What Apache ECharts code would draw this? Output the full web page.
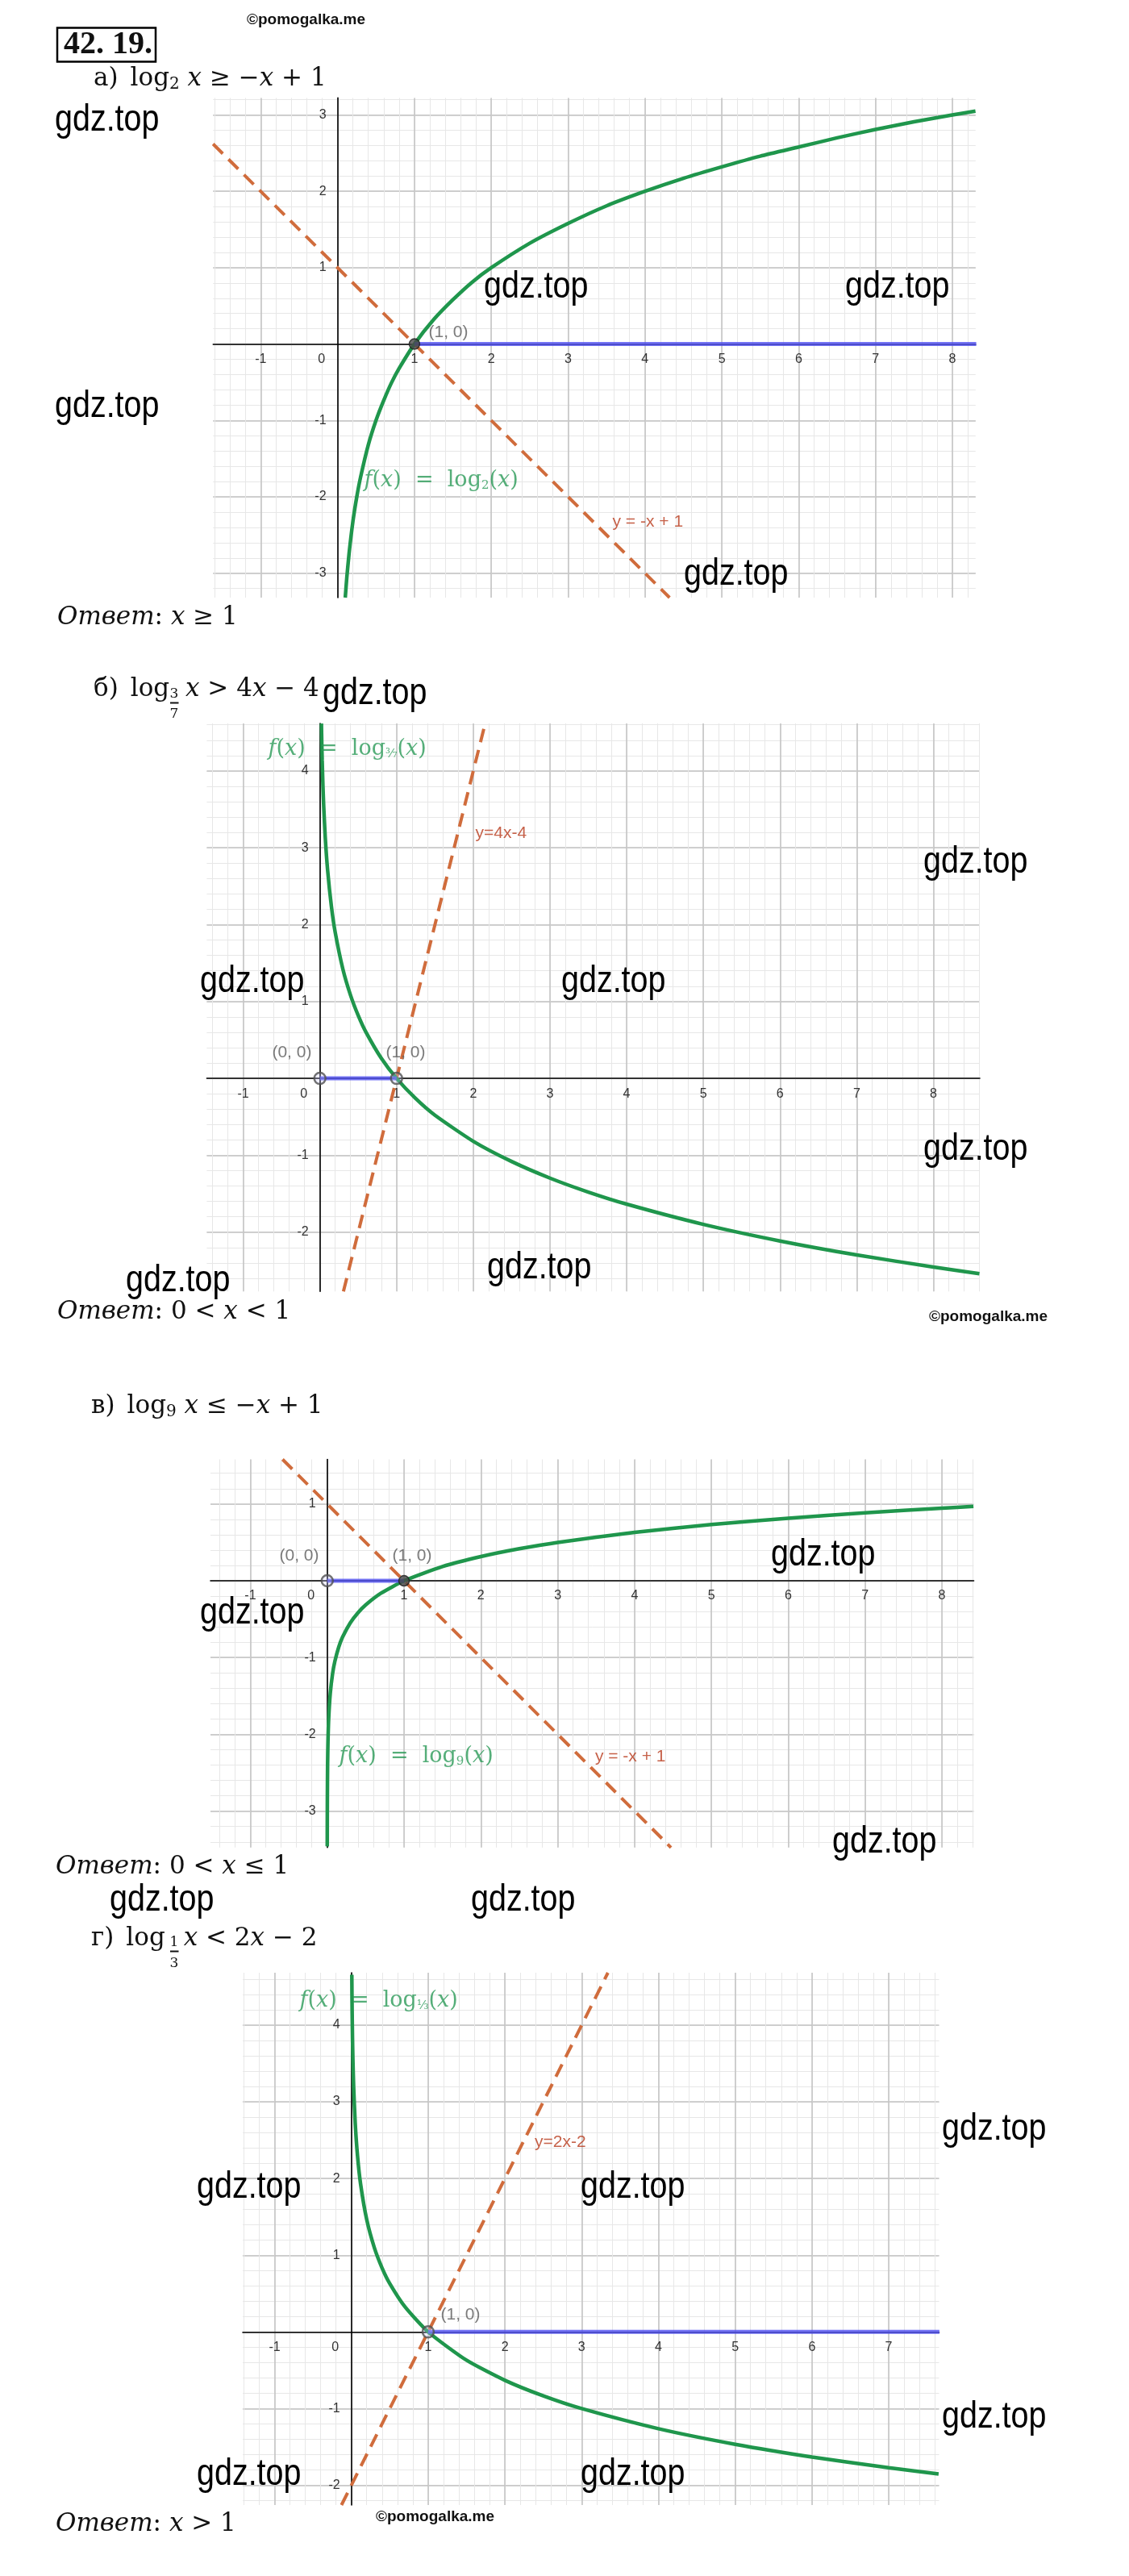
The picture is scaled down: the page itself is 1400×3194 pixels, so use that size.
<!DOCTYPE html>
<html><head><meta charset="utf-8">
<script src="https://cdn.jsdelivr.net/npm/echarts@6/dist/echarts.min.js"></script>
<style>html,body{margin:0;padding:0;background:#fff}#c{width:1400px;height:3194px}</style>
</head><body><div id="c"></div>
<script>
// ================= DATA =================
// axis extents of each panel
const xRangeA = [-1.619, 8.302], yRangeA = [-3.32, 3.223];
const xRangeB = [-1.475, 8.605], yRangeB = [-2.772, 4.618];
const xRangeC = [-1.519, 8.414], yRangeC = [-3.474, 1.581];
const xRangeD = [-1.415, 7.656], yRangeD = [-2.257, 4.683];

// green curves f(x)
const curveA = [[0.1,-3.32],[0.12,-3.06],[0.15,-2.74],[0.2,-2.32],[0.25,-2.0],[0.3,-1.74],[0.4,-1.32],[0.5,-1.0],[0.6,-0.74],[0.7,-0.51],[0.8,-0.32],[1,0],[1.25,0.32],[1.5,0.58],[1.75,0.81],[2,1],[2.5,1.32],[3,1.58],[3.5,1.81],[4,2],[4.5,2.17],[5,2.32],[5.5,2.46],[6,2.58],[6.5,2.7],[7,2.81],[7.5,2.91],[8,3.0],[8.3,3.05]];
const curveB = [[0.02,4.617],[0.025,4.354],[0.03,4.139],[0.04,3.799],[0.05,3.536],[0.07,3.138],[0.1,2.718],[0.15,2.239],[0.2,1.899],[0.3,1.421],[0.4,1.081],[0.5,0.818],[0.6,0.603],[0.8,0.263],[1,0],[1.25,-0.263],[1.5,-0.479],[2,-0.818],[2.5,-1.081],[3,-1.297],[3.5,-1.479],[4,-1.636],[5,-1.899],[6,-2.115],[7,-2.297],[8,-2.454],[8.6,-2.54]];
const curveC = [[0.0005,-3.459],[0.001,-3.144],[0.002,-2.829],[0.005,-2.411],[0.01,-2.096],[0.02,-1.78],[0.04,-1.465],[0.07,-1.21],[0.1,-1.048],[0.15,-0.863],[0.2,-0.732],[0.3,-0.548],[0.4,-0.417],[0.5,-0.315],[0.7,-0.162],[1,0],[1.5,0.185],[2,0.315],[2.5,0.417],[3,0.5],[4,0.631],[5,0.732],[6,0.815],[7,0.886],[8,0.946],[8.41,0.969]];
const curveD = [[0.006,4.657],[0.008,4.395],[0.01,4.192],[0.015,3.823],[0.02,3.561],[0.03,3.192],[0.05,2.727],[0.08,2.299],[0.12,1.93],[0.2,1.465],[0.3,1.096],[0.4,0.834],[0.5,0.631],[0.7,0.325],[1,0],[1.5,-0.369],[2,-0.631],[2.5,-0.834],[3,-1],[4,-1.262],[5,-1.465],[6,-1.631],[7,-1.771],[7.65,-1.852]];

// dashed straight lines
const lineA = [[-1.62,2.62],[4.32,-3.32]];
const lineB = [[0.307,-2.772],[2.155,4.618]];
const lineC = [[-0.581,1.581],[4.474,-3.474]];
const lineD = [[-0.129,-2.257],[3.342,4.683]];

// blue answer segments on the x axis
const answerA = [[1,0],[8.31,0]];
const answerB = [[0,0],[1,0]];
const answerC = [[0,0],[1,0]];
const answerD = [[1,0],[7.66,0]];

// points
const filledA = [[1,0]], openA = [];
const filledB = [], openB = [[0,0],[1,0]];
const filledC = [[1,0]], openC = [[0,0]];
const filledD = [], openD = [[1,0]];

// in-plot annotations: [x, y, kind, text]
const notesA = [[1.179,0.149,'pt','(1, 0)'],[0.34,-1.784,'fn','2'],[3.572,-2.327,'ln','y = -x + 1']];
const notesB = [[-0.68,4.282,'fn','³⁄₇'],[2.022,3.188,'ln','y=4x-4'],[-0.628,0.33,'pt','(0, 0)'],[0.855,0.33,'pt','(1, 0)']];
const notesC = [[-0.627,0.329,'pt','(0, 0)'],[0.842,0.329,'pt','(1, 0)'],[0.149,-2.289,'fn','9'],[3.481,-2.289,'ln','y = -x + 1']];
const notesD = [[-0.68,4.319,'fn','¹⁄₃'],[2.382,2.469,'ln','y=2x-2'],[1.159,0.224,'pt','(1, 0)']];

// page texts
const problemNo = '42. 19.';
const answers = [['x ≥ 1'], ['0 < x < 1'], ['0 < x ≤ 1'], ['x > 1']];
const watermark = 'gdz.top';
const copyright = '©pomogalka.me';

// ================= LAYOUT / STYLE =================
const SERIF = '"DejaVu Serif", serif';
const TSERIF = '"Liberation Serif", serif';
const SANS = '"Liberation Sans", Arial, sans-serif';
const GREEN = '#1f964c', ORANGE = '#d06c3c', REDL = '#b83a1c', BLUE = '#5252f2';

const panels = [
  {box:{left:264.3, top:121.4, width:945.5, height:619.6}, xr:xRangeA, yr:yRangeA, curve:curveA, line:lineA, ans:answerA, filled:filledA, open:openA, notes:notesA},
  {box:{left:256.4, top:897.0, width:958.6, height:704.3}, xr:xRangeB, yr:yRangeB, curve:curveB, line:lineB, ans:answerB, filled:filledB, open:openB, notes:notesB},
  {box:{left:261.0, top:1809.5, width:946.5, height:481.3}, xr:xRangeC, yr:yRangeC, curve:curveC, line:lineC, ans:answerC, filled:filledC, open:openC, notes:notesC},
  {box:{left:301.0, top:2446.0, width:863.5, height:660.0}, xr:xRangeD, yr:yRangeD, curve:curveD, line:lineD, ans:answerD, filled:filledD, open:openD, notes:notesD}
];

function isInt(v){ return Math.abs(v - Math.round(v)) < 1e-6; }

const option = {animation:false, backgroundColor:'#ffffff', grid:[], xAxis:[], yAxis:[], series:[], graphic:{elements:[]}};

panels.forEach((p, i) => {
  option.grid.push(Object.assign({containLabel:false, show:false}, p.box));
  // shift the labelled axes onto the zero lines of the other axis
  const xOff = -p.box.height * (0 - p.yr[0]) / (p.yr[1] - p.yr[0]);
  const yOff = -p.box.width * (0 - p.xr[0]) / (p.xr[1] - p.xr[0]);
  const mk = (dim, kind) => {
    const r = dim === 'x' ? p.xr : p.yr;
    const step = kind === 'minor' ? 0.2 : 1;
    const a = {
      type:'value', gridIndex:i, min:r[0], max:r[1], scale:false,
      minInterval:step, maxInterval:step, splitNumber:Math.round((r[1]-r[0])/step),
      position: dim === 'x' ? 'bottom' : 'left',
      axisLine:{show:false, onZero:false}, axisTick:{show:false}, axisLabel:{show:false},
      splitLine:{show:false}, z:0
    };
    if (kind !== 'main') {
      a.splitLine = {show:true, showMinLine:false, showMaxLine:false,
        lineStyle:{color: kind === 'minor' ? '#e7e7e7' : '#c2c2c2', width: kind === 'minor' ? 1 : 1.5}};
    } else {
      a.z = 1;
      a.offset = dim === 'x' ? xOff : yOff;
      a.axisLine = {show:true, onZero:false, lineStyle:{color:'#000', width:1.6}};
      a.axisLabel = dim === 'x' ? {
        show:true, margin:11, fontSize:16, color:'#333', fontFamily:SANS,
        formatter: v => !isInt(v) ? '' : (Math.round(v) === 0 ? '{z|0}' : String(Math.round(v))),
        rich:{z:{padding:[0,40,0,0], fontSize:16, color:'#333', fontFamily:SANS}}
      } : {
        show:true, margin:14, fontSize:16, color:'#333', fontFamily:SANS,
        formatter: v => (!isInt(v) || Math.round(v) === 0) ? '' : String(Math.round(v))
      };
    }
    return a;
  };
  ['minor','major','main'].forEach(k => { option.xAxis.push(mk('x', k)); option.yAxis.push(mk('y', k)); });
  const xi = 3*i + 2, yi = 3*i + 2;
  option.series.push(
    {type:'line', xAxisIndex:xi, yAxisIndex:yi, data:p.line, symbol:'none', silent:true, z:2,
     lineStyle:{color:ORANGE, width:4, type:[17,10]}},
    {type:'line', xAxisIndex:xi, yAxisIndex:yi, data:p.curve, symbol:'none', silent:true, z:3,
     smooth:0.2, lineStyle:{color:GREEN, width:4.5}},
    {type:'line', xAxisIndex:xi, yAxisIndex:yi, data:p.ans, symbol:'none', silent:true, z:4,
     lineStyle:{color:BLUE, width:5, opacity:0.8}},
    {type:'scatter', xAxisIndex:xi, yAxisIndex:yi, data:p.filled, symbolSize:13, silent:true, z:5,
     itemStyle:{color:'#474747', borderColor:'#1e1e1e', borderWidth:1.5}},
    {type:'scatter', xAxisIndex:xi, yAxisIndex:yi, data:p.open, symbolSize:14, silent:true, z:5,
     itemStyle:{color:'rgba(200,200,255,0.35)', borderColor:'#505050', borderWidth:2.5}},
    {type:'scatter', xAxisIndex:xi, yAxisIndex:yi, symbolSize:1, silent:true, z:6,
     itemStyle:{color:'rgba(0,0,0,0)'},
     data:p.notes.map(n => {
       const kind = n[2], t = n[3];
       let label;
       if (kind === 'pt') label = {show:true, position:'right', distance:0, formatter:t, fontFamily:SANS, fontSize:21, color:'#5a5a5a'};
       else if (kind === 'ln') label = {show:true, position:'right', distance:0, formatter:t, fontFamily:SANS, fontSize:21, color:REDL};
       else label = {show:true, position:'right', distance:0,
         formatter:'{i|f}{n|(}{i|x}{n|)  =  log}{s|' + t + '}{n|(}{i|x}{n|)}',
         rich:{
           n:{fontFamily:SERIF, fontSize:27, color:'#2a9a57'},
           i:{fontFamily:SERIF, fontSize:27, fontStyle:'italic', color:'#2a9a57'},
           s:{fontFamily:SERIF, fontSize:15, color:'#2a9a57', padding:[13,0,0,0]}
         }};
       return {value:[n[0], n[1]], label};
     })}
  );
});

// ----- page texts (graphic) -----
const G = option.graphic.elements;
function T(x, y, text, st, extra){
  G.push(Object.assign({type:'text', x, y, z:100, silent:true, style:Object.assign({text, textAlign:'left', textVerticalAlign:'middle', align:'left', verticalAlign:'middle', fill:'#111'}, st)}, extra || {}));
}
const hdrRich = {
  n:{fontFamily:SERIF, fontSize:31, fill:'#111'},
  i:{fontFamily:SERIF, fontSize:31, fontStyle:'italic', fill:'#111'},
  s:{fontFamily:SERIF, fontSize:20, fill:'#111', padding:[14,0,0,0]},
  g:{fontFamily:SERIF, fontSize:31, width:15}
};
const ansRich = {
  i:{fontFamily:SERIF, fontSize:31, fontStyle:'italic', fill:'#111'},
  n:{fontFamily:SERIF, fontSize:31, fill:'#111'}
};
// copyright marks
T(306, 25, copyright, {fontFamily:SANS, fontWeight:'bold', fontSize:19});
T(1152, 1633, copyright, {fontFamily:SANS, fontWeight:'bold', fontSize:19});
T(466, 3121, copyright, {fontFamily:SANS, fontWeight:'bold', fontSize:19});
// problem number box
G.push({type:'rect', z:100, silent:true, shape:{x:71, y:34.5, width:122, height:42}, style:{fill:'none', stroke:'#000', lineWidth:2.5}});
T(79, 56, problemNo, {fontFamily:TSERIF, fontWeight:'bold', fontSize:40});
// headers
T(116, 98, '{n|а)}{g| }{n|log}{s|2}{n| }{i|x}{n| ≥ −}{i|x}{n| + 1}', {rich:hdrRich});
T(116, 855, '{n|б)}{g| }{n|log}', {rich:hdrRich});
T(216, 861, '3', {fontFamily:SERIF, fontSize:17, textAlign:'center', align:'center'});
G.push({type:'line', z:100, silent:true, shape:{x1:211, y1:871.5, x2:221.5, y2:871.5}, style:{stroke:'#111', lineWidth:2}});
T(216, 886, '7', {fontFamily:SERIF, fontSize:17, textAlign:'center', align:'center'});
T(230, 855, '{i|x}{n| > 4}{i|x}{n| − 4}', {rich:hdrRich});
T(113, 1744, '{n|в)}{g| }{n|log}{s|9}{n| }{i|x}{n| ≤ −}{i|x}{n| + 1}', {rich:hdrRich});
T(113, 2404, '{n|г)}{g| }{n|log}', {rich:hdrRich});
T(216, 2409, '1', {fontFamily:SERIF, fontSize:17, textAlign:'center', align:'center'});
G.push({type:'line', z:100, silent:true, shape:{x1:211, y1:2419.5, x2:221.5, y2:2419.5}, style:{stroke:'#111', lineWidth:2}});
T(216, 2435, '3', {fontFamily:SERIF, fontSize:17, textAlign:'center', align:'center'});
T(227.7, 2404, '{i|x}{n| < 2}{i|x}{n| − 2}', {rich:hdrRich});
// answers
const ansPos = [[71,766],[71,1627],[69,2315],[69,3130]];
answers.forEach((a, k) => {
  const s = a[0].replace(/x/g, '}{i|x}{n|');
  T(ansPos[k][0], ansPos[k][1], '{i|Ответ}{n|: ' + s + '}', {rich:ansRich});
});
// watermarks
const gdzPos = [[68,149],[600,356],[1048,356],[68,504],[848,712],[400,860],[1145,1069],[248,1217],[696,1217],
  [1145,1425],[156,1588],[604,1572],[956,1928],[248,2000],[1032,2284],[136,2356],[584,2356],
  [1168,2640],[244,2712],[720,2712],[1168,2997],[244,3068],[720,3068]];
gdzPos.forEach(q => T(q[0], q[1], watermark, {fontFamily:SANS, fontSize:47, fill:'#000'}, {scaleX:0.84}));

const chart = echarts.init(document.getElementById('c'), null, {renderer:'canvas'});
chart.setOption(option);
</script>
</body></html>
